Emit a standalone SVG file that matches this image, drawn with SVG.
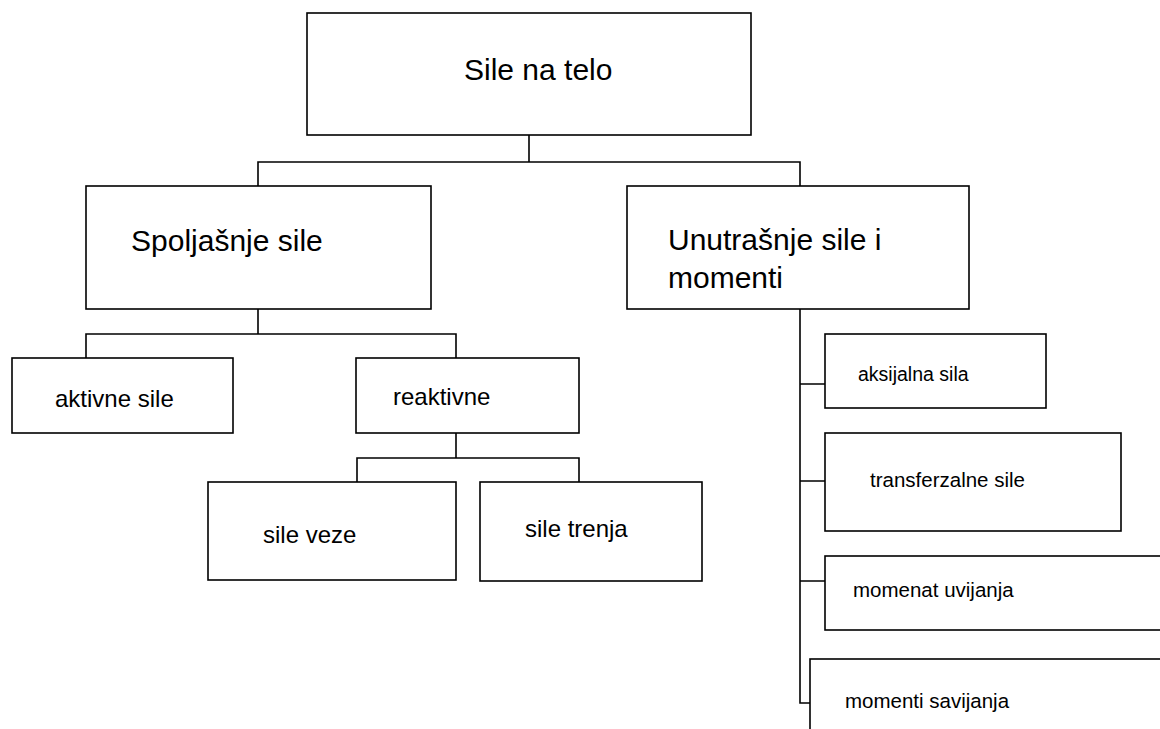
<svg xmlns="http://www.w3.org/2000/svg" width="1160" height="729" viewBox="0 0 1160 729">
<style>
.box{fill:#fff;stroke:#000;stroke-width:1.6}
.ln{fill:none;stroke:#000;stroke-width:1.6}
text{font-family:"Liberation Sans",Arial,sans-serif;fill:#000}
.t1{font-size:30px}
.t2{font-size:24px}
.t3{font-size:20.5px}
</style>
<rect width="1160" height="729" fill="#fff"/>
<g id="connectors">
<path class="ln" d="M529,135 V162 M258,186 V162 H800 V186"/>
<path class="ln" d="M258,309 V334 M86,358 V334 H456 V358"/>
<path class="ln" d="M456,433 V458 M357,482 V458 H579 V482"/>
<path class="ln" d="M800,309 V703 H810 M800,384 H825 M800,481 H825 M800,581 H825"/>
</g>
<g id="n-sile-na-telo"><rect class="box" x="307" y="13" width="444" height="122"/><text class="t1" x="464" y="80">Sile na telo</text></g>
<g id="n-spoljasnje"><rect class="box" x="86" y="186" width="345" height="123"/><text class="t1" x="131" y="251">Spoljašnje sile</text></g>
<g id="n-unutrasnje"><rect class="box" x="627" y="186" width="342" height="123"/><text class="t1" x="668" y="250">Unutrašnje sile i</text><text class="t1" x="668" y="288">momenti</text></g>
<g id="n-aktivne"><rect class="box" x="12" y="358" width="221" height="75"/><text class="t2" x="55" y="407">aktivne sile</text></g>
<g id="n-reaktivne"><rect class="box" x="356" y="358" width="223" height="75"/><text class="t2" x="393" y="405">reaktivne</text></g>
<g id="n-sile-veze"><rect class="box" x="208" y="482" width="248" height="98"/><text class="t2" x="263" y="543">sile veze</text></g>
<g id="n-sile-trenja"><rect class="box" x="480" y="482" width="222" height="99"/><text class="t2" x="525" y="537">sile trenja</text></g>
<g id="n-aksijalna"><rect class="box" x="825" y="334" width="221" height="74"/><text class="t3" x="858" y="381" style="font-size:19.5px">aksijalna sila</text></g>
<g id="n-transferzalne"><rect class="box" x="825" y="433" width="296" height="98"/><text class="t3" x="870" y="487">transferzalne sile</text></g>
<g id="n-momenat"><rect class="box" x="825" y="556" width="345" height="74"/><text class="t3" x="853" y="597">momenat uvijanja</text></g>
<g id="n-momenti"><rect class="box" x="810" y="659" width="360" height="90"/><text class="t3" x="845" y="708">momenti savijanja</text></g>
</svg>
